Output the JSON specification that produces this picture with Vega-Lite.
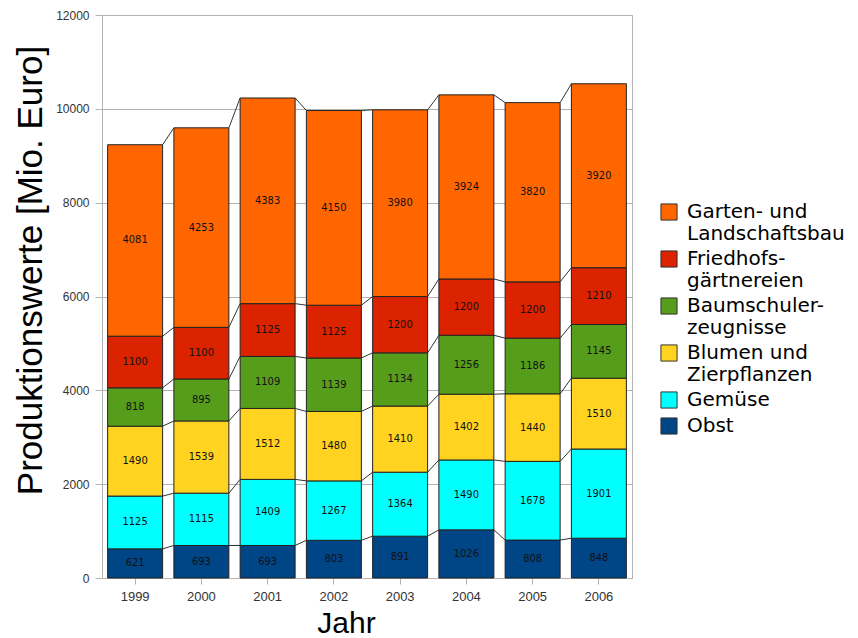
{
  "$schema": "https://vega.github.io/schema/vega-lite/v6.json",
  "width": 530,
  "height": 563,
  "autosize": {"type": "none"},
  "padding": {"left": 102, "top": 15, "right": 226, "bottom": 60},
  "background": "white",
  "config": {
    "view": {"stroke": "#b3b3b3", "strokeWidth": 1},
    "font": "Liberation Sans",
    "axis": {"labelFont": "Liberation Sans", "titleFont": "Liberation Sans", "titleFontWeight": "normal", "titleColor": "#000000"}
  },
  "data": {
    "values": [
      {"year": 1999, "cat": "Obst", "k": 1, "value": 621},
      {"year": 1999, "cat": "Gemüse", "k": 2, "value": 1125},
      {"year": 1999, "cat": "Blumen und Zierpflanzen", "k": 3, "value": 1490},
      {"year": 1999, "cat": "Baumschulerzeugnisse", "k": 4, "value": 818},
      {"year": 1999, "cat": "Friedhofsgärtnereien", "k": 5, "value": 1100},
      {"year": 1999, "cat": "Garten- und Landschaftsbau", "k": 6, "value": 4081},
      {"year": 2000, "cat": "Obst", "k": 1, "value": 693},
      {"year": 2000, "cat": "Gemüse", "k": 2, "value": 1115},
      {"year": 2000, "cat": "Blumen und Zierpflanzen", "k": 3, "value": 1539},
      {"year": 2000, "cat": "Baumschulerzeugnisse", "k": 4, "value": 895},
      {"year": 2000, "cat": "Friedhofsgärtnereien", "k": 5, "value": 1100},
      {"year": 2000, "cat": "Garten- und Landschaftsbau", "k": 6, "value": 4253},
      {"year": 2001, "cat": "Obst", "k": 1, "value": 693},
      {"year": 2001, "cat": "Gemüse", "k": 2, "value": 1409},
      {"year": 2001, "cat": "Blumen und Zierpflanzen", "k": 3, "value": 1512},
      {"year": 2001, "cat": "Baumschulerzeugnisse", "k": 4, "value": 1109},
      {"year": 2001, "cat": "Friedhofsgärtnereien", "k": 5, "value": 1125},
      {"year": 2001, "cat": "Garten- und Landschaftsbau", "k": 6, "value": 4383},
      {"year": 2002, "cat": "Obst", "k": 1, "value": 803},
      {"year": 2002, "cat": "Gemüse", "k": 2, "value": 1267},
      {"year": 2002, "cat": "Blumen und Zierpflanzen", "k": 3, "value": 1480},
      {"year": 2002, "cat": "Baumschulerzeugnisse", "k": 4, "value": 1139},
      {"year": 2002, "cat": "Friedhofsgärtnereien", "k": 5, "value": 1125},
      {"year": 2002, "cat": "Garten- und Landschaftsbau", "k": 6, "value": 4150},
      {"year": 2003, "cat": "Obst", "k": 1, "value": 891},
      {"year": 2003, "cat": "Gemüse", "k": 2, "value": 1364},
      {"year": 2003, "cat": "Blumen und Zierpflanzen", "k": 3, "value": 1410},
      {"year": 2003, "cat": "Baumschulerzeugnisse", "k": 4, "value": 1134},
      {"year": 2003, "cat": "Friedhofsgärtnereien", "k": 5, "value": 1200},
      {"year": 2003, "cat": "Garten- und Landschaftsbau", "k": 6, "value": 3980},
      {"year": 2004, "cat": "Obst", "k": 1, "value": 1026},
      {"year": 2004, "cat": "Gemüse", "k": 2, "value": 1490},
      {"year": 2004, "cat": "Blumen und Zierpflanzen", "k": 3, "value": 1402},
      {"year": 2004, "cat": "Baumschulerzeugnisse", "k": 4, "value": 1256},
      {"year": 2004, "cat": "Friedhofsgärtnereien", "k": 5, "value": 1200},
      {"year": 2004, "cat": "Garten- und Landschaftsbau", "k": 6, "value": 3924},
      {"year": 2005, "cat": "Obst", "k": 1, "value": 808},
      {"year": 2005, "cat": "Gemüse", "k": 2, "value": 1678},
      {"year": 2005, "cat": "Blumen und Zierpflanzen", "k": 3, "value": 1440},
      {"year": 2005, "cat": "Baumschulerzeugnisse", "k": 4, "value": 1186},
      {"year": 2005, "cat": "Friedhofsgärtnereien", "k": 5, "value": 1200},
      {"year": 2005, "cat": "Garten- und Landschaftsbau", "k": 6, "value": 3820},
      {"year": 2006, "cat": "Obst", "k": 1, "value": 848},
      {"year": 2006, "cat": "Gemüse", "k": 2, "value": 1901},
      {"year": 2006, "cat": "Blumen und Zierpflanzen", "k": 3, "value": 1510},
      {"year": 2006, "cat": "Baumschulerzeugnisse", "k": 4, "value": 1145},
      {"year": 2006, "cat": "Friedhofsgärtnereien", "k": 5, "value": 1210},
      {"year": 2006, "cat": "Garten- und Landschaftsbau", "k": 6, "value": 3920}
    ]
  },
  "transform": [
    {"stack": "value", "groupby": ["year"], "sort": [{"field": "k", "order": "ascending"}], "as": ["v0", "v1"]},
    {"calculate": "(datum.v0 + datum.v1) / 2", "as": "mid"},
    {"window": [{"op": "lead", "field": "v1", "as": "next_v1"}, {"op": "lead", "field": "year", "as": "next_year"}], "groupby": ["cat"], "sort": [{"field": "year", "order": "ascending"}], "frame": [null, null]}
  ],
  "encoding": {
    "x": {
      "field": "year", "type": "ordinal",
      "scale": {"paddingInner": 0.17, "paddingOuter": 0.085},
      "axis": {
        "title": "Jahr", "titleFontSize": 30, "titleX": 244, "titleY": 54, "titleBaseline": "alphabetic", "titleAnchor": null, "titleAlign": "center",
        "labelAngle": 0, "labelFontSize": 13, "labelColor": "#333333", "labelPadding": 6,
        "tickSize": 6, "tickColor": "#b3b3b3", "domainColor": "#b3b3b3", "grid": false
      }
    }
  },
  "layer": [
    {
      "mark": {"type": "bar", "stroke": "#222222", "strokeWidth": 1},
      "encoding": {
        "y": {
          "field": "v0", "type": "quantitative",
          "scale": {"domain": [0, 12000], "nice": false},
          "axis": {
            "title": "Produktionswerte [Mio. Euro]", "titleFontSize": 35, "titleX": -72, "titleY": 255, "titleAngle": -90, "titleBaseline": "middle", "titleAlign": "center", "titleAnchor": null,
            "values": [0, 2000, 4000, 6000, 8000, 10000, 12000], "format": "d",
            "labelFontSize": 12, "labelColor": "#333333", "labelPadding": 6,
            "tickSize": 7, "tickColor": "#b3b3b3", "domainColor": "#b3b3b3",
            "grid": true, "gridColor": "#b3b3b3"
          }
        },
        "y2": {"field": "v1"},
        "color": {
          "field": "cat", "type": "nominal",
          "scale": {
            "domain": ["Garten- und Landschaftsbau", "Friedhofsgärtnereien", "Baumschulerzeugnisse", "Blumen und Zierpflanzen", "Gemüse", "Obst"],
            "range": ["#ff6600", "#dc2300", "#579d1c", "#ffd320", "#00ffff", "#004586"]
          },
          "legend": {
            "title": null, "orient": "none", "legendX": 557, "legendY": 187, "padding": 0,
            "symbolType": "square", "symbolSize": 260, "symbolStrokeColor": "#333333", "symbolStrokeWidth": 1,
            "labelFont": "DejaVu Sans", "labelFontSize": 20, "labelLimit": 0, "labelColor": "#000000", "labelOffset": 8, "rowPadding": 4,
            "labelExpr": "datum.label == 'Garten- und Landschaftsbau' ? ['Garten- und', 'Landschaftsbau'] : datum.label == 'Friedhofsgärtnereien' ? ['Friedhofs-', 'gärtnereien'] : datum.label == 'Baumschulerzeugnisse' ? ['Baumschuler-', 'zeugnisse'] : datum.label == 'Blumen und Zierpflanzen' ? ['Blumen und', 'Zierpflanzen'] : datum.label"
          }
        }
      }
    },
    {
      "transform": [{"filter": "datum.next_year != null"}],
      "mark": {"type": "rule", "color": "#333333", "strokeWidth": 1, "xOffset": 27.5, "x2Offset": -27.5},
      "encoding": {
        "x2": {"field": "next_year"},
        "y": {"field": "v1", "type": "quantitative"},
        "y2": {"field": "next_v1"}
      }
    },
    {
      "mark": {"type": "text", "font": "Liberation Sans Narrow, DejaVu Sans Condensed, sans-serif", "fontSize": 11, "color": "#111111"},
      "encoding": {
        "y": {"field": "mid", "type": "quantitative"},
        "text": {"field": "value", "type": "quantitative", "format": "d"}
      }
    }
  ]
}
